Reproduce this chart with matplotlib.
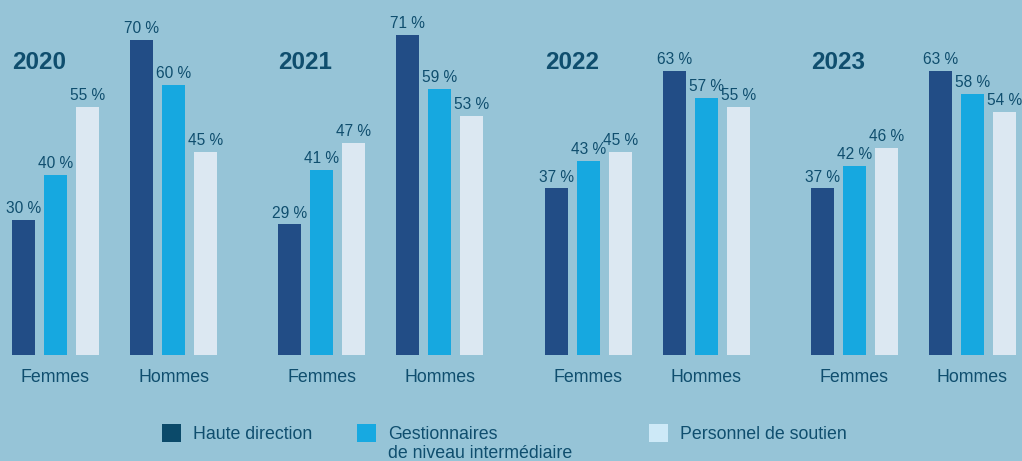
import matplotlib.pyplot as plt
from matplotlib.patches import Rectangle

years = ['2020', '2021', '2022', '2023']
groups = ['Femmes', 'Hommes']
series = ['Haute direction', 'Gestionnaires\nde niveau intermédiaire', 'Personnel de soutien']

# valeurs en % : [année][groupe][série]
haute = [[30, 70], [29, 71], [37, 63], [37, 63]]
gestion = [[40, 60], [41, 59], [43, 57], [42, 58]]
soutien = [[55, 45], [47, 53], [45, 55], [46, 54]]

bar_colors = ['#224d86', '#16a8e0', '#dce8f2']
leg_colors = ['#0b4a6a', '#17a9e1', '#cde9f7']
bg = '#96c4d7'
txt = '#0f4e6e'

plt.rcParams['font.family'] = ['Liberation Sans', 'DejaVu Sans']

fig = plt.figure(figsize=(10.22, 4.61), dpi=100)
fig.patch.set_facecolor(bg)
ax = fig.add_axes([0, 0, 1, 1])
ax.set_facecolor(bg)

# échelle : 4.5 px par %, base à y=355 px
px = 4.5
ax.set_xlim(0, 1022)
ax.set_ylim(-106 / px, 355 / px)
ax.axis('off')

year_step = 266.33
grp_off = 118
bar_step = 32
bw = 23

for i, yr in enumerate(years):
    base = 12 + year_step * i
    ax.text(base, (355 - 63) / px, yr, fontsize=17.5, fontweight='bold',
            color=txt, ha='left', va='center')
    for g, gname in enumerate(groups):
        vals = [haute[i][g], gestion[i][g], soutien[i][g]]
        left = base + grp_off * g
        for s, v in enumerate(vals):
            x = left + bar_step * s
            ax.bar(x, v, width=bw, align='edge', color=bar_colors[s], linewidth=0)
            ax.text(x + bw / 2, v + 7 / px, f'{v} %', fontsize=11.2, color=txt,
                    ha='center', va='baseline')
        ax.text(left + (2 * bar_step + bw) / 2, (355 - 377) / px, gname,
                fontsize=12.8, color=txt, ha='center', va='center')

# légende
leg_x = [162, 357, 649]
for s, name in enumerate(series):
    ax.add_patch(Rectangle((leg_x[s], (355 - 442) / px), 19, 18 / px,
                           color=leg_colors[s], linewidth=0))
    lines = name.split('\n')
    for k, line in enumerate(lines):
        ax.text(leg_x[s] + 31, (355 - 434 - 19 * k) / px, line, fontsize=12.8,
                color=txt, ha='left', va='center')

fig.savefig('out.png', dpi=100, facecolor=bg)
